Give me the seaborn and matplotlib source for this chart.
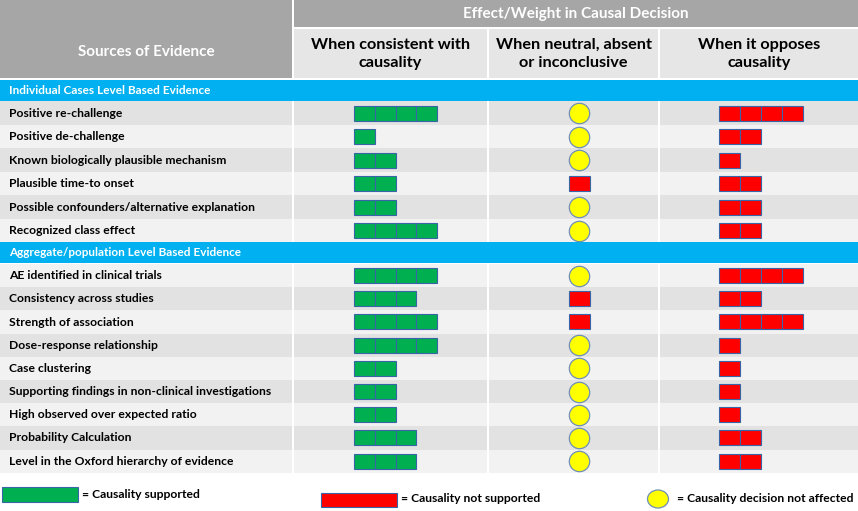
import matplotlib
matplotlib.use("Agg")
import matplotlib.pyplot as plt
from matplotlib.patches import Rectangle, Ellipse
import seaborn as sns

# Data: number of blocks per source of evidence
sections = ["Individual Cases Level Based Evidence",
            "Aggregate/population Level Based Evidence"]

labels_ind = ["Positive re-challenge", "Positive de-challenge",
              "Known biologically plausible mechanism", "Plausible time-to onset",
              "Possible confounders/alternative explanation", "Recognized class effect"]
green_ind = [4, 1, 2, 2, 2, 4]
neutral_ind = [0, 0, 0, 1, 0, 0]   # 0 = not affected (circle), 1 = one red block
red_ind = [4, 2, 1, 2, 2, 2]

labels_agg = ["AE identified in clinical trials", "Consistency across studies",
              "Strength of association", "Dose-response relationship",
              "Case clustering", "Supporting findings in non-clinical investigations",
              "High observed over expected ratio", "Probability Calculation",
              "Level in the Oxford hierarchy of evidence"]
green_agg = [4, 3, 4, 4, 2, 2, 2, 3, 3]
neutral_agg = [0, 1, 1, 0, 0, 0, 0, 0, 0]
red_agg = [4, 2, 4, 1, 1, 1, 1, 2, 2]

col_titles = ["When consistent with\ncausality",
              "When neutral, absent\nor inconclusive",
              "When it opposes\ncausality"]

legend_text = ["= Causality supported", "= Causality not supported",
               "= Causality decision not affected"]

sns.set_theme(style="white")
plt.rcParams["font.family"] = ["Lato", "DejaVu Sans"]

GREEN = "#00b050"
RED = "#ff0000"
YELLOW = "#ffff00"
EDGE = "#3a64a8"
GRAY = "#a6a6a6"
SUB = "#e6e6e6"
DARK = "#e2e2e2"
LIGHT = "#f2f2f2"
BLUE = "#00b0f0"

W, H = 858, 511
fig = plt.figure(figsize=(W / 100, H / 100), dpi=100)
ax = fig.add_axes([0, 0, 1, 1])

cols = [(0, 292), (294, 487), (489, 658), (660, 858)]

# header
ax.add_patch(Rectangle((0, 0), 292, 78, color=GRAY, lw=0))
ax.add_patch(Rectangle((294, 0), 564, 27, color=GRAY, lw=0))
for x0, x1 in cols[1:]:
    ax.add_patch(Rectangle((x0, 29), x1 - x0, 49, color=SUB, lw=0))
ax.text(146, 52, "Sources of Evidence", ha="center", va="center",
        color="white", fontsize=11, fontweight="bold")
ax.text(576, 14, "Effect/Weight in Causal Decision", ha="center", va="center",
        color="white", fontsize=11, fontweight="bold")
for (x0, x1), t in zip(cols[1:], col_titles):
    ax.text((x0 + x1) / 2, 54, t, ha="center", va="center", color="black",
            fontsize=11.7, fontweight="bold", linespacing=1.35)

# row layout
blocks = []   # (y, left, color)
circles = []  # y
y = 80
all_groups = [(labels_ind, green_ind, neutral_ind, red_ind, 23.5, 0),
              (labels_agg, green_agg, neutral_agg, red_agg, 23.2, 1)]
for s, (labels, green, neutral, red, rh, start) in enumerate(all_groups):
    ax.add_patch(Rectangle((0, y), W, 21, color=BLUE, lw=0))
    ax.text(9, y + 10.5, sections[s], ha="left", va="center", color="white",
            fontsize=8.5, fontweight="bold")
    y += 21.5
    for i, lab in enumerate(labels):
        shade = DARK if (i + start) % 2 == 0 else LIGHT
        for x0, x1 in cols:
            ax.add_patch(Rectangle((x0, y), x1 - x0, rh, color=shade, lw=0))
        yc = y + rh / 2
        ax.text(9, yc, lab, ha="left", va="center", color="black",
                fontsize=8.7, fontweight="bold")
        for k in range(green[i]):
            blocks.append((yc, 354 + k * 20.8, GREEN))
        if neutral[i]:
            blocks.append((yc, 569, RED))
        else:
            circles.append(yc)
        for k in range(red[i]):
            blocks.append((yc, 719 + k * 21, RED))
        y += rh

ax.barh([b[0] for b in blocks], 20.8, left=[b[1] for b in blocks], height=15,
        color=[b[2] for b in blocks], edgecolor=EDGE, linewidth=0.8)
sns.scatterplot(x=[579] * len(circles), y=circles, s=215, color=YELLOW,
                edgecolor="#6f8fb5", linewidth=0.9, ax=ax, zorder=3)

# legend
ax.add_patch(Rectangle((2, 487), 76, 15, facecolor=GREEN, edgecolor=EDGE, lw=0.8))
ax.text(82, 494.5, legend_text[0], ha="left", va="center", fontsize=8.7,
        fontweight="bold", color="black")
ax.add_patch(Rectangle((321, 493), 76, 14, facecolor=RED, edgecolor=EDGE, lw=0.8))
ax.text(401, 498, legend_text[1], ha="left", va="center", fontsize=8.7,
        fontweight="bold", color="black")
ax.add_patch(Ellipse((658, 499), 21, 18, facecolor=YELLOW, edgecolor="#6f8fb5", lw=0.9))
ax.text(677, 498, legend_text[2], ha="left", va="center", fontsize=8.7,
        fontweight="bold", color="black")

ax.set_xlim(0, W)
ax.set_ylim(H, 0)
ax.set_axis_off()
fig.savefig("out.png", dpi=100)
